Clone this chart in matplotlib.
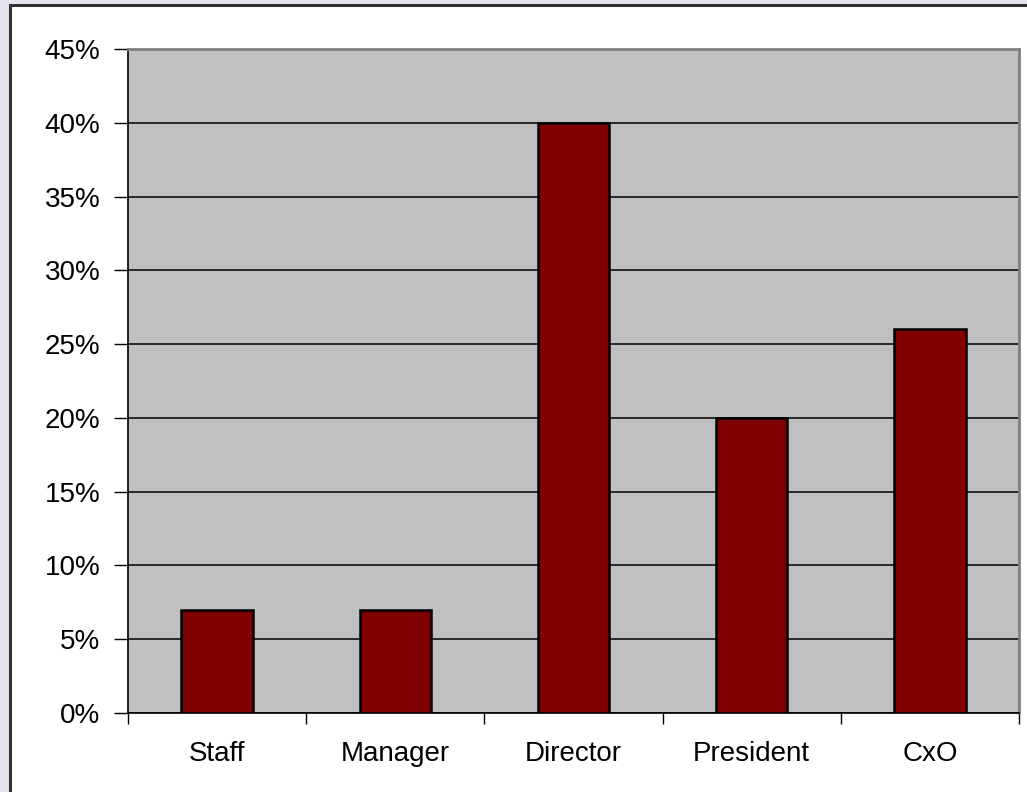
import matplotlib.pyplot as plt
from matplotlib.patches import Rectangle
from matplotlib.ticker import FixedLocator, PercentFormatter

categories = ['Staff', 'Manager', 'Director', 'President', 'CxO']
values = [7, 7, 40, 20, 26]

plt.rcParams['font.family'] = ['Liberation Sans', 'DejaVu Sans']

W, H = 1027, 792
fig = plt.figure(figsize=(W / 100, H / 100), dpi=100, facecolor='#e6e4ee')

# white chart area with dark frame
fig.patches.append(Rectangle((10 / W, -0.1), 1.2, 1 - 5 / H + 0.1,
                             transform=fig.transFigure, facecolor='white',
                             edgecolor='#333333', linewidth=2.2, zorder=-5))

ax = fig.add_axes([128 / W, 79 / H, 891 / W, 664 / H])
ax.set_zorder(2)
ax.set_facecolor('#c0c0c0')

x = range(len(categories))
ax.bar(x, values, width=0.4, color='#800000', edgecolor='black', linewidth=1.8, zorder=3)

ax.set_xlim(-0.5, len(categories) - 0.5)
ax.set_ylim(0, 45)
ax.set_yticks(range(0, 50, 5))
ax.yaxis.set_major_formatter(PercentFormatter(decimals=0))
ax.yaxis.grid(True, color='black', linewidth=1.1, zorder=1)
ax.set_axisbelow(True)

# category boundaries get the tick marks, centres get the labels
ax.xaxis.set_major_locator(FixedLocator([i - 0.5 for i in range(len(categories) + 1)]))
ax.xaxis.set_minor_locator(FixedLocator(list(x)))
ax.set_xticklabels([])
ax.set_xticklabels(categories, minor=True)
ax.tick_params(axis='x', which='major', length=8, width=1, color='black', direction='out')
ax.tick_params(axis='x', which='minor', length=0, pad=20, labelsize=20)
ax.tick_params(axis='y', length=10, width=1, pad=10, labelsize=20, direction='out')

for side in ['top', 'right']:
    ax.spines[side].set_color('#808080')
    ax.spines[side].set_linewidth(2)
ax.spines['left'].set_color('black')
ax.spines['bottom'].set_color('black')
ax.spines['left'].set_linewidth(1.2)
ax.spines['bottom'].set_linewidth(1.2)

plt.savefig('out.png', dpi=100, facecolor=fig.get_facecolor())
